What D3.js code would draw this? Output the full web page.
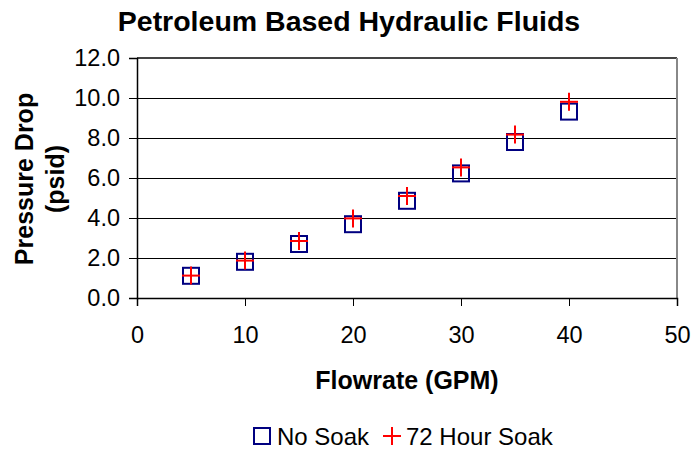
<!DOCTYPE html>
<html>
<head>
<meta charset="utf-8">
<script src="https://cdn.jsdelivr.net/npm/d3@7"></script>
<style>
  body { margin: 0; background: #fff; }
  text { font-family: "Liberation Sans", Arial, sans-serif; }
</style>
</head>
<body>
<div id="chart"></div>
<script>
// flowrate (GPM)
var flowrates = [5, 10, 15, 20, 25, 30, 35, 40];
// pressure drop (psid)
var noSoak = [1.11, 1.81, 2.70, 3.69, 4.86, 6.23, 7.80, 9.32];
var hourSoak72 = [1.12, 1.87, 2.85, 3.98, 5.10, 6.53, 8.17, 9.81];
var xTicks = [0, 10, 20, 30, 40, 50];
var yTicks = [0, 2, 4, 6, 8, 10, 12];

function drawChart(placement, w, h) {
    var margins = {top: 58, right: 14, bottom: 154, left: 137};
    var width = w - margins.left - margins.right,
        height = h - margins.top - margins.bottom;

    var x = d3.scaleLinear().domain([0, 50]).range([0, width]);
    var y = d3.scaleLinear().domain([0, 12]).range([height, 0]);

    var svg = d3.select(placement).append("svg")
        .attr("width", w).attr("height", h);

    svg.append("text")
        .attr("x", 349).attr("y", 31)
        .attr("text-anchor", "middle")
        .attr("font-size", "28.5px")
        .attr("font-weight", "bold")
        .text("Petroleum Based Hydraulic Fluids");

    var g = svg.append("g")
        .attr("transform", "translate(" + margins.left + "," + margins.top + ")");

    // gridlines
    g.selectAll(".grid")
        .data(yTicks.filter(function(d) { return d > 0 && d < 12; }))
        .enter().append("line")
        .attr("x1", 0).attr("x2", width)
        .attr("y1", function(d) { return Math.round(y(d)) + 0.5; })
        .attr("y2", function(d) { return Math.round(y(d)) + 0.5; })
        .attr("stroke", "#000").attr("stroke-width", 1);

    // plot frame top / right
    g.append("line").attr("x1", 0).attr("x2", width).attr("y1", 0).attr("y2", 0)
        .attr("stroke", "#444").attr("stroke-width", 2);
    g.append("line").attr("x1", width).attr("x2", width).attr("y1", 0).attr("y2", height)
        .attr("stroke", "#888").attr("stroke-width", 2);

    var yAxis = d3.axisLeft(y).tickValues(yTicks).tickFormat(d3.format(".1f"))
        .tickSize(8).tickPadding(9);
    var xAxis = d3.axisBottom(x).tickValues(xTicks).tickFormat(d3.format("d"))
        .tickSize(8).tickPadding(20);

    var ya = g.append("g").call(yAxis);
    var xa = g.append("g").attr("transform", "translate(0," + height + ")").call(xAxis);
    [ya, xa].forEach(function(a) {
        a.select(".domain").attr("stroke", "#000").attr("stroke-width", 1.5);
        a.selectAll(".tick line").attr("stroke", "#000").attr("stroke-width", 1);
        a.selectAll("text").attr("font-size", "23.5px").attr("fill", "#000")
            .attr("font-family", "'Liberation Sans', Arial, sans-serif");
    });

    // No Soak squares
    var sq = 16;
    g.selectAll(".sq")
        .data(flowrates)
        .enter().append("rect")
        .attr("x", function(d) { return x(d) - sq / 2; })
        .attr("y", function(d, i) { return y(noSoak[i]) - sq / 2; })
        .attr("width", sq).attr("height", sq)
        .attr("fill", "none").attr("stroke", "#000080").attr("stroke-width", 2);

    // 72 Hour Soak crosses
    var cr = 9;
    var cross = g.selectAll(".cross")
        .data(flowrates)
        .enter().append("g")
        .attr("transform", function(d, i) { return "translate(" + x(d) + "," + y(hourSoak72[i]) + ")"; });
    cross.append("line").attr("x1", -cr).attr("x2", cr).attr("y1", 0).attr("y2", 0)
        .attr("stroke", "#ff0000").attr("stroke-width", 2);
    cross.append("line").attr("x1", 0).attr("x2", 0).attr("y1", -cr).attr("y2", cr)
        .attr("stroke", "#ff0000").attr("stroke-width", 2);

    // axis titles
    svg.append("text")
        .attr("x", margins.left + width / 2).attr("y", 389)
        .attr("text-anchor", "middle")
        .attr("font-size", "25px").attr("font-weight", "bold")
        .text("Flowrate (GPM)");

    var yt = svg.append("text")
        .attr("transform", "translate(33,179) rotate(-90)")
        .attr("text-anchor", "middle")
        .attr("font-size", "25px").attr("font-weight", "bold");
    yt.append("tspan").attr("x", 0).attr("dy", 0).text("Pressure Drop");
    yt.append("tspan").attr("x", 0).attr("dy", 31).text("(psid)");

    // legend
    var legend = svg.append("g").attr("transform", "translate(0,436)");
    legend.append("rect").attr("x", 254).attr("y", -8).attr("width", 16).attr("height", 16)
        .attr("fill", "none").attr("stroke", "#000080").attr("stroke-width", 2);
    legend.append("text").attr("x", 277).attr("y", 9)
        .attr("font-size", "24px").text("No Soak");
    legend.append("line").attr("x1", 383).attr("x2", 401).attr("y1", 0).attr("y2", 0)
        .attr("stroke", "#ff0000").attr("stroke-width", 2);
    legend.append("line").attr("x1", 392).attr("x2", 392).attr("y1", -9).attr("y2", 9)
        .attr("stroke", "#ff0000").attr("stroke-width", 2);
    legend.append("text").attr("x", 406).attr("y", 9)
        .attr("font-size", "24px").text("72 Hour Soak");
}

drawChart("#chart", 691, 452);
</script>
</body>
</html>
